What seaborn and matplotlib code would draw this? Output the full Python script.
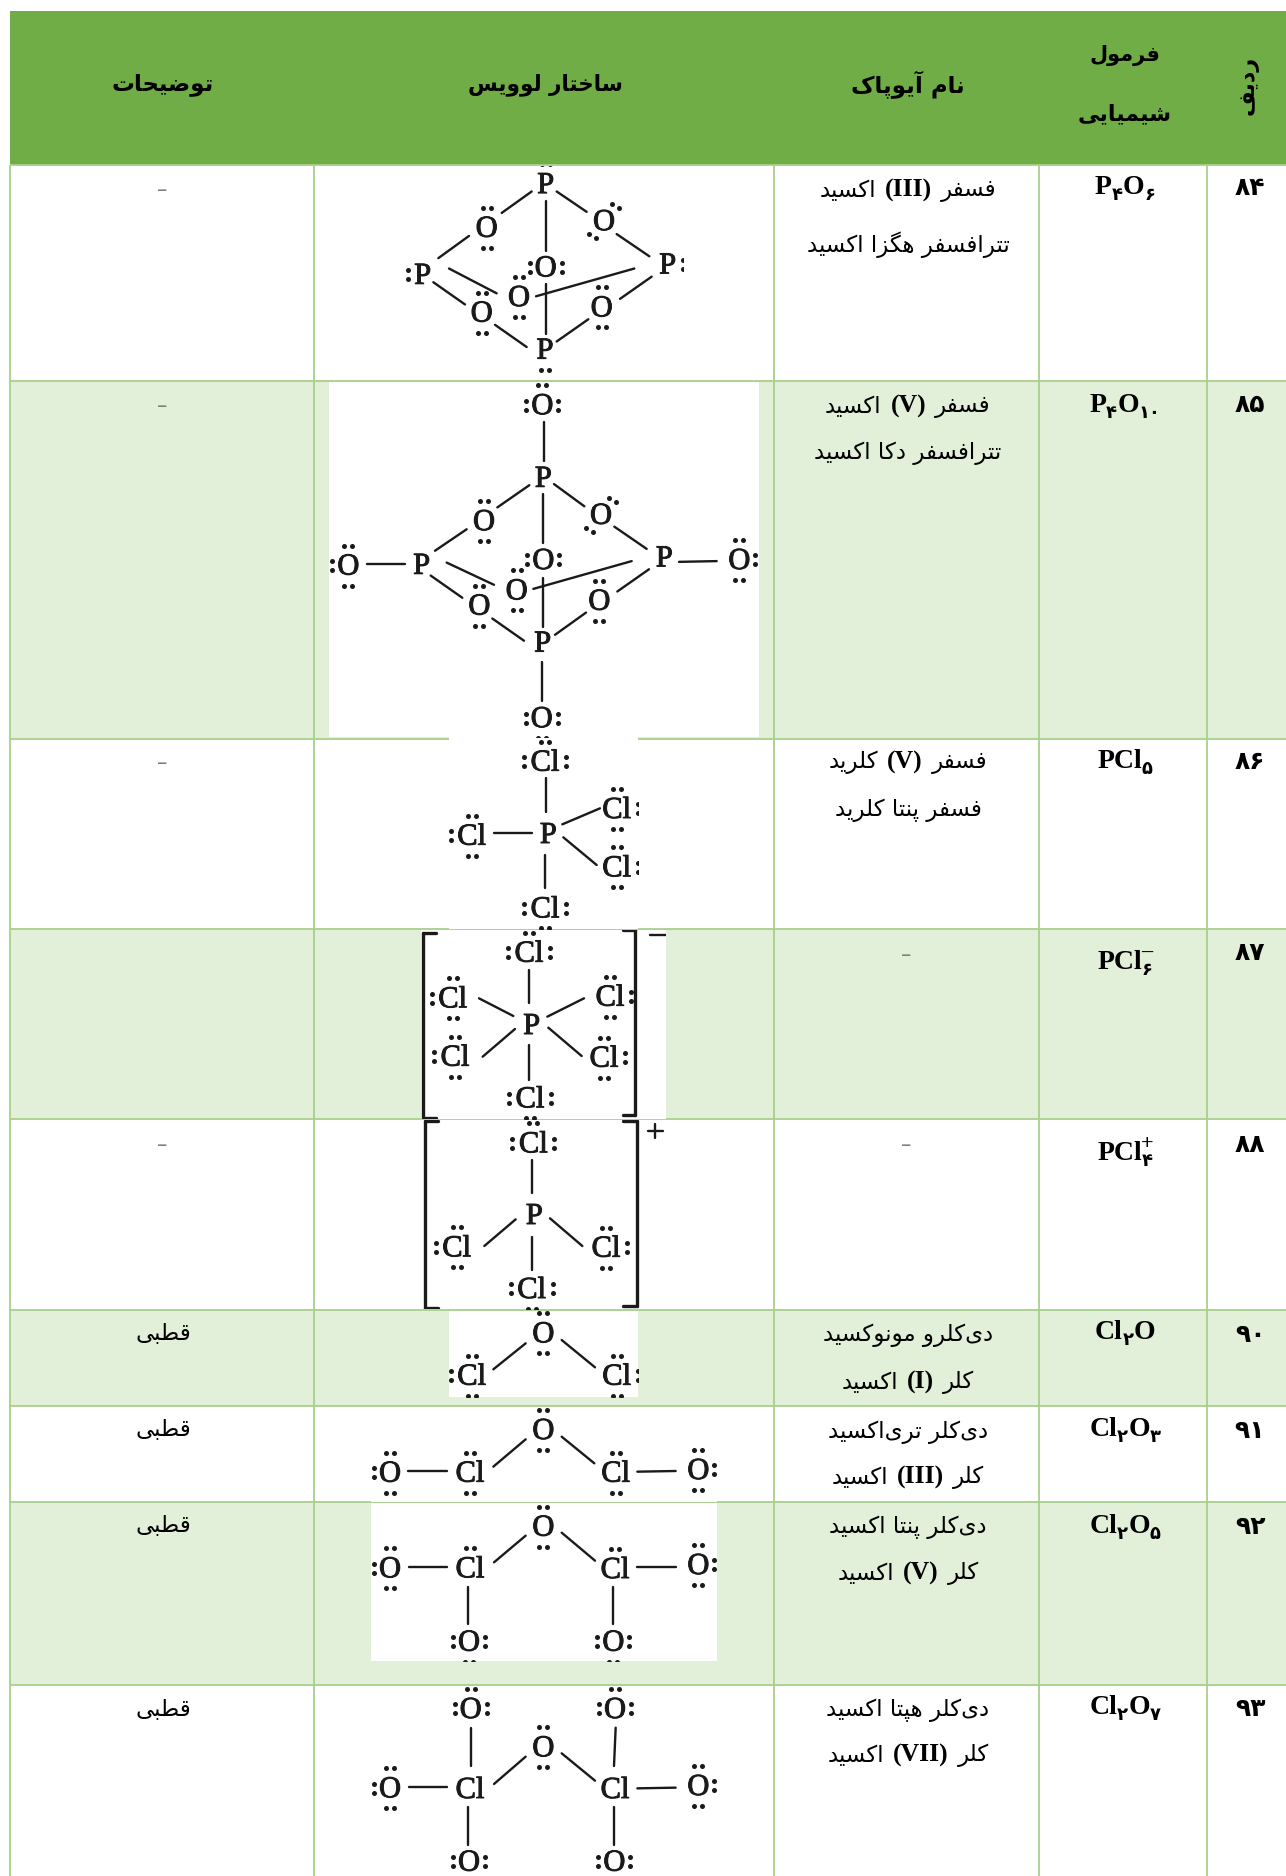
import matplotlib
matplotlib.use('Agg')
import numpy as np
import pandas as pd
import seaborn as sns
import matplotlib.pyplot as plt
import matplotlib.patheffects as pe
from matplotlib.colors import ListedColormap
from matplotlib.patches import Rectangle

GREEN = '#70AD47'
BAND = '#E2EFD9'
LINE = '#A8D08D'
INK = '#1a1a1a'

# table layout, in pixels of the picture
col_edges = [10, 314, 774, 1039, 1207]
row_edges = [11, 165, 381, 739, 929, 1119, 1310, 1406, 1502, 1685, 1876]
row_shade = [2, 0, 1, 0, 1, 0, 1, 0, 1, 0]

# text, x, y, size
header_cells = [('توضیحات', 163, 85, 16.5), ('ساختار لوویس', 545, 85, 15.5), ('نام آیوپاک', 908, 85, 16.5),
                ('فرمول', 1125, 55, 15), ('شیمیایی', 1125, 114, 16)]
row_numbers = ['۸۴', '۸۵', '۸۶', '۸۷', '۸۸', '۹۰', '۹۱', '۹۲', '۹۳']
number_y = [188, 405, 762, 953, 1145, 1335, 1431, 1527, 1709]

notes = ['-', '-', '-', '', '-', 'قطبی', 'قطبی', 'قطبی', 'قطبی']
note_y = [190, 406, 763, 955, 1145, 1333, 1429, 1525, 1709]

# (right word, numeral, left word) for the first line, plain string for the second
names_1 = [('فسفر', '(III)', 'اکسید'), ('فسفر', '(V)', 'اکسید'), ('فسفر', '(V)', 'کلرید'), None, None,
           'دی‌کلرو مونوکسید', 'دی‌کلر تری‌اکسید', 'دی‌کلر پنتا اکسید', 'دی‌کلر هپتا اکسید']
names_2 = ['تترافسفر هگزا اکسید', 'تترافسفر دکا اکسید', 'فسفر پنتا کلرید', None, None,
           ('کلر', '(I)', 'اکسید'), ('کلر', '(III)', 'اکسید'), ('کلر', '(V)', 'اکسید'), ('کلر', '(VII)', 'اکسید')]
name_y_1 = [190, 406, 762, 955, 1145, 1335, 1432, 1527, 1710]
name_y_2 = [245, 453, 810, None, None, 1382, 1477, 1573, 1755]

# (text, kind): m main, s subscript, u superscript over the last subscript
formulas = [[('P', 'm'), ('۴', 's'), ('O', 'm'), ('۶', 's')],
            [('P', 'm'), ('۴', 's'), ('O', 'm'), ('۱۰', 's')],
            [('PCl', 'm'), ('۵', 's')],
            [('PCl', 'm'), ('۶', 's'), ('–', 'u')],
            [('PCl', 'm'), ('۴', 's'), ('+', 'u')],
            [('Cl', 'm'), ('۲', 's'), ('O', 'm')],
            [('Cl', 'm'), ('۲', 's'), ('O', 'm'), ('۳', 's')],
            [('Cl', 'm'), ('۲', 's'), ('O', 'm'), ('۵', 's')],
            [('Cl', 'm'), ('۲', 's'), ('O', 'm'), ('۷', 's')]]
formula_base = [194, 412, 768, 969, 1160, 1339, 1436, 1533, 1714]

# white picture behind each Lewis structure: left, right, top, bottom
patches = [(406, 683, 166, 372), (329, 759, 382, 737), (449, 638, 733, 929), (421, 666, 930, 1119),
           (423, 665, 1120, 1309), (449, 638, 1311, 1397), (371, 717, 1407, 1502), (371, 717, 1503, 1661),
           (371, 717, 1686, 1876)]

# structures below were read off crops: origin and scale of the crop come first
# atoms are (label, x, y, lone pairs), bonds are (x1, y1, x2, y2)
P4O6_frame = (300, 160, 3.0, 2.7)
P4O6_atoms = [('P', 737, 65, 't'), ('O', 560, 183, 'tb'), ('O', 912, 165, 'xz'), ('P', 368, 310, 'l'),
              ('P', 1103, 282, 'r'), ('O', 737, 290, 'lr'), ('O', 657, 370, 'tb'), ('O', 545, 412, 'tb'),
              ('O', 905, 398, 'tb'), ('P', 735, 512, 'b')]
P4O6_bonds = [(695, 85, 605, 143), (737, 110, 737, 245), (770, 85, 860, 140), (507, 205, 415, 265),
              (950, 200, 1048, 260), (447, 293, 590, 360), (400, 330, 495, 390), (1003, 293, 708, 368),
              (1055, 315, 960, 375), (737, 335, 737, 470), (585, 445, 680, 505), (865, 430, 770, 490)]

P4O10_frame = (300, 160, 3.0, 2.7)
P4O10_atoms = [('O', 727, 662, 'tlr'), ('P', 730, 858, ''), ('O', 552, 975, 'tb'), ('O', 903, 958, 'xz'),
               ('P', 365, 1093, ''), ('P', 1093, 1073, ''), ('O', 730, 1080, 'lr'), ('O', 650, 1162, 'tb'),
               ('O', 538, 1203, 'tb'), ('O', 898, 1190, 'tb'), ('P', 728, 1303, ''), ('O', 145, 1095, 'tbl'),
               ('O', 1318, 1080, 'tbr'), ('O', 725, 1507, 'blr')]
P4O10_bonds = [(731, 708, 731, 812), (688, 878, 592, 938), (730, 903, 730, 1035), (762, 875, 853, 935),
               (500, 997, 405, 1055), (943, 990, 1040, 1050), (440, 1087, 582, 1147), (392, 1122, 487, 1182),
               (995, 1083, 700, 1158), (1047, 1105, 952, 1165), (730, 1128, 730, 1260), (577, 1238, 672, 1298),
               (858, 1222, 765, 1282), (200, 1090, 315, 1090), (1137, 1085, 1250, 1083), (725, 1355, 725, 1460)]

PCl5_frame = (400, 730, 3.0, 3.0)
PCl5_atoms = [('Cl', 435, 95, 'tlr'), ('P', 445, 312, ''), ('Cl', 215, 317, 'tbl'), ('Cl', 650, 237, 'tbr'),
              ('Cl', 650, 412, 'tbr'), ('Cl', 435, 535, 'blr')]
PCl5_bonds = [(437, 145, 437, 245), (283, 308, 395, 308), (487, 283, 600, 235), (490, 322, 590, 405),
              (436, 375, 436, 475)]

PCl6_frame = (400, 730, 3.0, 3.0)
PCl6_atoms = [('Cl', 387, 668, 'tlr'), ('P', 395, 885, ''), ('Cl', 158, 805, 'tbl'), ('Cl', 630, 800, 'tbr'),
              ('Cl', 165, 980, 'tbl'), ('Cl', 612, 983, 'tbr'), ('Cl', 390, 1105, 'blr')]
PCl6_bonds = [(388, 720, 388, 818), (237, 805, 340, 858), (552, 805, 442, 860), (248, 980, 345, 897),
              (445, 893, 545, 978), (388, 945, 388, 1050), (750, 615, 797, 615)]
PCl6_brackets = [(68, 608, 68, 1165), (68, 608, 108, 608), (68, 1165, 108, 1165), (705, 600, 705, 1155),
                 (668, 600, 705, 600), (668, 1155, 705, 1155)]

PCl4_frame = (350, 1110, 3.0, 3.0)
PCl4_atoms = [('Cl', 550, 100, 'tlr'), ('P', 553, 315, ''), ('Cl', 320, 412, 'tbl'), ('Cl', 768, 413, 'tbr'),
              ('Cl', 545, 537, 'blr')]
PCl4_bonds = [(545, 150, 545, 250), (403, 408, 497, 328), (600, 325, 697, 408), (545, 382, 545, 480),
              (893, 62, 938, 62), (915, 42, 915, 84)]
PCl4_brackets = [(225, 33, 225, 595), (225, 33, 265, 33), (225, 595, 265, 595), (860, 33, 860, 588),
                 (820, 33, 860, 33), (820, 588, 860, 588)]

Cl2O_frame = (350, 1110, 3.0, 3.0)
Cl2O_atoms = [('O', 580, 670, 'tb'), ('Cl', 365, 797, 'tbl'), ('Cl', 800, 797, 'tbr')]
Cl2O_bonds = [(430, 778, 527, 700), (635, 690, 735, 772)]

Cl2O3_frame = (350, 1110, 3.0, 3.0)
Cl2O3_atoms = [('O', 580, 960, 'tb'), ('Cl', 360, 1088, 'tb'), ('Cl', 797, 1088, 'tb'), ('O', 120, 1088, 'tbl'),
               ('O', 1045, 1080, 'tbr')]
Cl2O3_bonds = [(430, 1070, 527, 988), (635, 980, 733, 1060), (175, 1082, 290, 1082), (862, 1085, 977, 1083)]

Cl2O5_frame = (350, 1490, 3.0, 3.0)
Cl2O5_atoms = [('O', 580, 110, 'tb'), ('Cl', 360, 235, 't'), ('Cl', 795, 237, 't'), ('O', 120, 235, 'tbl'),
               ('O', 1045, 225, 'tbr'), ('O', 357, 455, 'blr'), ('O', 790, 455, 'blr')]
Cl2O5_bonds = [(432, 217, 527, 137), (635, 128, 735, 212), (178, 230, 290, 230), (862, 232, 977, 232),
               (355, 290, 355, 402), (788, 290, 788, 402)]

Cl2O7_frame = (350, 1490, 3.0, 3.0)
Cl2O7_atoms = [('O', 362, 657, 'tlr'), ('O', 795, 657, 'tlr'), ('O', 580, 772, 'tb'), ('Cl', 360, 897, ''),
               ('Cl', 795, 897, ''), ('O', 120, 895, 'tbl'), ('O', 1045, 888, 'tbr'), ('O', 357, 1115, 'lr'),
               ('O', 793, 1115, 'lr')]
Cl2O7_bonds = [(362, 713, 362, 828), (797, 713, 792, 828), (432, 882, 527, 800), (635, 790, 735, 872),
               (178, 890, 290, 890), (862, 895, 977, 893), (355, 950, 355, 1065), (792, 950, 792, 1065)]

structures = [(P4O6_frame, P4O6_atoms, P4O6_bonds, []), (P4O10_frame, P4O10_atoms, P4O10_bonds, []),
              (PCl5_frame, PCl5_atoms, PCl5_bonds, []), (PCl6_frame, PCl6_atoms, PCl6_bonds, PCl6_brackets),
              (PCl4_frame, PCl4_atoms, PCl4_bonds, PCl4_brackets), (Cl2O_frame, Cl2O_atoms, Cl2O_bonds, []),
              (Cl2O3_frame, Cl2O3_atoms, Cl2O3_bonds, []), (Cl2O5_frame, Cl2O5_atoms, Cl2O5_bonds, []),
              (Cl2O7_frame, Cl2O7_atoms, Cl2O7_bonds, [])]

# presentation forms: isolated, final, initial, medial
FORMS = {'ا': (0xFE8D, 0xFE8E), 'آ': (0xFE81, 0xFE82), 'د': (0xFEA9, 0xFEAA), 'ر': (0xFEAD, 0xFEAE),
         'ز': (0xFEAF, 0xFEB0), 'و': (0xFEED, 0xFEEE),
         'ب': (0xFE8F, 0xFE90, 0xFE91, 0xFE92), 'پ': (0xFB56, 0xFB57, 0xFB58, 0xFB59),
         'ت': (0xFE95, 0xFE96, 0xFE97, 0xFE98), 'ح': (0xFEA1, 0xFEA2, 0xFEA3, 0xFEA4),
         'خ': (0xFEA5, 0xFEA6, 0xFEA7, 0xFEA8), 'س': (0xFEB1, 0xFEB2, 0xFEB3, 0xFEB4),
         'ش': (0xFEB5, 0xFEB6, 0xFEB7, 0xFEB8), 'ض': (0xFEBD, 0xFEBE, 0xFEBF, 0xFEC0),
         'ط': (0xFEC1, 0xFEC2, 0xFEC3, 0xFEC4), 'ف': (0xFED1, 0xFED2, 0xFED3, 0xFED4),
         'ق': (0xFED5, 0xFED6, 0xFED7, 0xFED8), 'ک': (0xFB8E, 0xFB8F, 0xFB90, 0xFB91),
         'گ': (0xFB92, 0xFB93, 0xFB94, 0xFB95), 'ل': (0xFEDD, 0xFEDE, 0xFEDF, 0xFEE0),
         'م': (0xFEE1, 0xFEE2, 0xFEE3, 0xFEE4), 'ن': (0xFEE5, 0xFEE6, 0xFEE7, 0xFEE8),
         'ه': (0xFEE9, 0xFEEA, 0xFEEB, 0xFEEC), 'ی': (0xFBFC, 0xFBFD, 0xFBFE, 0xFBFF)}


def fa(text):
    # matplotlib does no shaping, so join the letters and lay them out left to right
    out = []
    for i, ch in enumerate(text):
        if ch not in FORMS:
            if ch != '\u200c':
                out.append(ch)
            continue
        prev_ch = text[i - 1] if i > 0 else ''
        next_ch = text[i + 1] if i + 1 < len(text) else ''
        joins_prev = prev_ch in FORMS and len(FORMS[prev_ch]) == 4
        joins_next = next_ch in FORMS and len(FORMS[ch]) == 4
        if joins_prev and joins_next:
            out.append(chr(FORMS[ch][3]))
        elif joins_next:
            out.append(chr(FORMS[ch][2]))
        elif joins_prev:
            out.append(chr(FORMS[ch][1]))
        else:
            out.append(chr(FORMS[ch][0]))
    return ''.join(out[::-1])


sns.set_theme(style='white')
plt.rcParams['font.family'] = ['DejaVu Sans']
fig = plt.figure(figsize=(12.86, 18.76), dpi=100)

# row shading as a heatmap with one matrix row per pixel
shade = np.repeat(row_shade, np.diff(row_edges)).reshape(-1, 1)
ax_bg = fig.add_axes([10 / 1286, 0, 1276 / 1286, 1 - 11 / 1876])
sns.heatmap(shade, ax=ax_bg, cmap=ListedColormap(['white', BAND, GREEN]), vmin=0, vmax=2, cbar=False,
            xticklabels=False, yticklabels=False)

ax = fig.add_axes([0, 0, 1, 1])
ax.set_xlim(0, 1286)
ax.set_ylim(1876, 0)
ax.axis('off')
ax.patch.set_alpha(0)

for y in row_edges[1:-1]:
    ax.plot([10, 1286], [y, y], color=LINE, lw=1.3, zorder=1, solid_capstyle='butt')
for x in col_edges:
    ax.plot([x, x], [165, 1876], color=LINE, lw=1.3, zorder=1, solid_capstyle='butt')

renderer = fig.canvas.get_renderer()
NAME_SIZE = 16.5


def width_of(t):
    return t.get_window_extent(renderer).width


def draw_name(entry, y, cx):
    if entry is None:
        return
    if isinstance(entry, str):
        ax.text(cx, y, fa(entry), ha='center', va='center', fontsize=NAME_SIZE, color='black', zorder=5)
        return
    right, numeral, left = entry
    t_r = ax.text(0, y, fa(right), ha='left', va='center', fontsize=NAME_SIZE, color='black', zorder=5)
    t_n = ax.text(0, y, numeral, ha='left', va='center', fontsize=NAME_SIZE + 2, color='black', zorder=5,
                  family='Liberation Serif', weight='bold')
    t_l = ax.text(0, y, fa(left), ha='left', va='center', fontsize=NAME_SIZE, color='black', zorder=5)
    gap = 9
    total = width_of(t_r) + width_of(t_n) + width_of(t_l) + 2 * gap
    x = cx - total / 2
    for t in (t_l, t_n, t_r):
        t.set_x(x)
        x += width_of(t) + gap


def draw_formula(parts, base, cx):
    pieces = []
    for text, kind in parts:
        if kind == 'm':
            t = ax.text(0, base, text, ha='left', va='baseline', fontsize=20, weight='bold',
                        family='Liberation Serif', color='black', zorder=5)
        elif kind == 's':
            t = ax.text(0, base + 6, text, ha='left', va='baseline', fontsize=13, weight='bold',
                        color='black', zorder=5)
        else:
            t = ax.text(0, base - 11, text, ha='left', va='baseline', fontsize=16, weight='bold',
                        family='Liberation Serif', color='black', zorder=5)
        pieces.append((t, kind))
    total = sum(width_of(t) for t, kind in pieces if kind != 'u')
    x = cx - total / 2
    last_x = x
    for t, kind in pieces:
        if kind == 'u':
            t.set_x(last_x - 1)
            continue
        t.set_x(x)
        last_x = x
        x += width_of(t)


# header
for text, x, y, size in header_cells:
    ax.text(x, y, fa(text), ha='center', va='center', fontsize=size, weight='bold', color='black', zorder=5)
ax.text(1249, 85, fa('ردیف'), ha='center', va='center', fontsize=16, weight='bold', color='black', zorder=5,
        rotation=90)

# white pictures go over the grid, the structures over them
clip_boxes = []
for left, right, top, bottom in patches:
    ax.add_patch(Rectangle((left, top), right - left, bottom - top, fc='white', ec='none', zorder=2))
    clip_boxes.append(Rectangle((left, top), right - left, bottom - top, transform=ax.transData))


def draw_segments(frame, segments, width, clip):
    x0, y0, sx, sy = frame
    rows = []
    for i, (x1, y1, x2, y2) in enumerate(segments):
        rows.append({'bond': i, 'x': x0 + x1 / sx, 'y': y0 + y1 / sy})
        rows.append({'bond': i, 'x': x0 + x2 / sx, 'y': y0 + y2 / sy})
    n_lines = len(ax.lines)
    sns.lineplot(data=pd.DataFrame(rows), x='x', y='y', units='bond', estimator=None, sort=False,
                 color=INK, lw=width, ax=ax, legend=False, zorder=3)
    for line in ax.lines[n_lines:]:
        line.set_clip_path(clip)


def draw_structure(frame, atoms, bonds, brackets, clip):
    x0, y0, sx, sy = frame
    draw_segments(frame, bonds, 1.7, clip)
    if brackets:
        draw_segments(frame, brackets, 2.4, clip)

    dots = []
    for label, ax_x, ax_y, pairs in atoms:
        x = x0 + ax_x / sx
        y = y0 + ax_y / sy
        t = ax.text(x, y + 1.5, label, ha='center', va='center', fontsize=22, family='Liberation Serif',
                    color=INK, zorder=4)
        t.set_path_effects([pe.withStroke(linewidth=0.7, foreground=INK)])
        t.set_clip_path(clip)
        half = 15 if label == 'Cl' else 10 if label == 'O' else 9
        if 't' in pairs:
            dots += [(x - 4, y - 20), (x + 4, y - 20)]
        if 'b' in pairs:
            dots += [(x - 4, y + 20), (x + 4, y + 20)]
        if 'l' in pairs:
            dots += [(x - half - 6, y - 4.5), (x - half - 6, y + 4.5)]
        if 'r' in pairs:
            dots += [(x + half + 6, y - 4.5), (x + half + 6, y + 4.5)]
        if 'x' in pairs:
            dots += [(x + 8, y - 17), (x + 15, y - 13)]
        if 'z' in pairs:
            dots += [(x - 15, y + 13), (x - 8, y + 17)]
    if dots:
        n_coll = len(ax.collections)
        sns.scatterplot(x=[d[0] for d in dots], y=[d[1] for d in dots], s=13, color=INK, linewidth=0,
                        ax=ax, legend=False, zorder=4)
        for coll in ax.collections[n_coll:]:
            coll.set_clip_path(clip)


for (frame, atoms, bonds, brackets), clip in zip(structures, clip_boxes):
    draw_structure(frame, atoms, bonds, brackets, clip)

ax.set_xlim(0, 1286)
ax.set_ylim(1876, 0)
ax.axis('off')

# table rows
for i in range(len(row_numbers)):
    ax.text(1250, number_y[i], row_numbers[i], ha='center', va='center', fontsize=18, weight='bold',
            color='black', zorder=5)
    draw_formula(formulas[i], formula_base[i], 1125)
    if names_1[i] is None:
        ax.text(906, name_y_1[i], '–', ha='center', va='center', fontsize=15, color='#7f7f7f', zorder=5)
    else:
        draw_name(names_1[i], name_y_1[i], 908)
        draw_name(names_2[i], name_y_2[i], 908)
    if notes[i] == '-':
        ax.text(162, note_y[i], '–', ha='center', va='center', fontsize=15, color='#7f7f7f', zorder=5)
    elif notes[i]:
        ax.text(163, note_y[i], fa(notes[i]), ha='center', va='center', fontsize=NAME_SIZE, color='black', zorder=5)

fig.savefig('out.png', dpi=100)
